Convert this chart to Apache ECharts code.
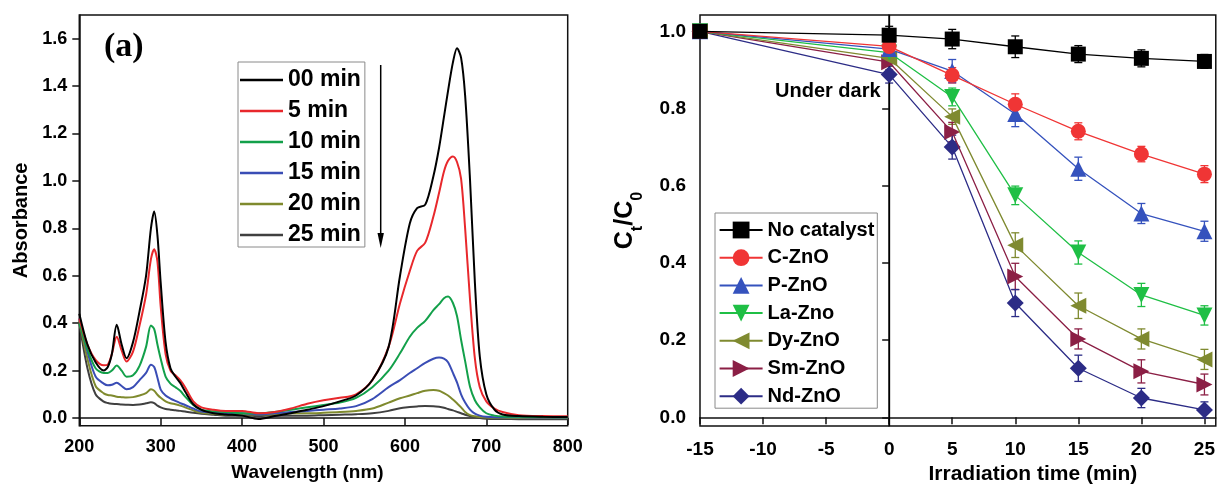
<!DOCTYPE html>
<html>
<head>
<meta charset="utf-8">
<script src="https://cdn.jsdelivr.net/npm/echarts@6/dist/echarts.min.js"></script>
<style>
html,body{margin:0;padding:0;background:#fff;}
#c{width:1218px;height:490px;}
</style>
</head>
<body>
<div id="c"></div>
<script>
// ---------- Panel (a): UV-Vis spectra ----------
const wavelength = [200,210,220,230,235,240,246,252,258,266,274,282,288,292,296,300,306,312,318,324,330,340,350,365,380,400,420,440,460,480,500,520,540,560,580,594,606,615,625,635,642,648,653,659,664,669,674,680,686,692,700,710,720,740,770,800];
const abs00 = [0.44,0.31,0.235,0.20,0.215, 0.27,0.393,0.31,0.252,0.32, 0.45,0.60,0.80,0.871,0.77, 0.57,0.32,0.21,0.175,0.148, 0.112,0.058,0.034,0.02,0.015, 0.01,-0.004,0.008,0.02,0.035, 0.05,0.07,0.095,0.16,0.30, 0.60,0.82,0.885,0.90,1.02, 1.14,1.27,1.38,1.50,1.56, 1.52,1.36,1.005,0.57,0.26, 0.10,0.035,0.015,0.008,0.005, 0.004];
const abs05 = [0.42,0.31,0.245,0.222,0.225, 0.27,0.343,0.285,0.238,0.28, 0.39,0.52,0.67,0.712,0.66, 0.47,0.27,0.20,0.18,0.16, 0.13,0.07,0.045,0.035,0.03, 0.03,0.02,0.025,0.04,0.06, 0.075,0.085,0.10,0.16,0.30, 0.484,0.62,0.705,0.74,0.85, 0.95,1.04,1.085,1.103,1.08, 1.01,0.80,0.50,0.25,0.13, 0.07,0.04,0.025,0.012,0.008, 0.007];
const abs10 = [0.40,0.29,0.21,0.19,0.19, 0.20,0.221,0.20,0.174,0.18, 0.22,0.30,0.39,0.375,0.31, 0.25,0.175,0.145,0.13,0.115, 0.09,0.055,0.035,0.028,0.025, 0.02,0.02,0.025,0.035,0.045, 0.055,0.065,0.085,0.13,0.20, 0.273,0.343,0.38,0.41,0.455, 0.48,0.505,0.512,0.485,0.43, 0.33,0.24,0.132,0.075,0.045, 0.02,0.01,0.006,0.005,0.004, 0.003];
const abs15 = [0.42,0.28,0.175,0.145,0.138, 0.14,0.149,0.135,0.121,0.13, 0.16,0.19,0.225,0.215,0.17, 0.12,0.095,0.082,0.072,0.063, 0.055,0.04,0.027,0.022,0.02, 0.02,0.015,0.02,0.025,0.03, 0.035,0.04,0.05,0.08,0.13, 0.16,0.19,0.21,0.233,0.25, 0.255,0.25,0.235,0.19,0.15, 0.10,0.065,0.035,0.018,0.01, 0.005,0.003,0.003,0.003,0.002, 0.002];
const abs20 = [0.41,0.25,0.135,0.104,0.097, 0.095,0.09,0.088,0.086,0.088, 0.095,0.105,0.121,0.115,0.098, 0.085,0.07,0.062,0.058,0.052, 0.045,0.032,0.022,0.018,0.015, 0.015,0.015,0.015,0.02,0.02, 0.022,0.025,0.03,0.04,0.065, 0.083,0.095,0.105,0.115,0.118, 0.115,0.105,0.095,0.078,0.062, 0.045,0.025,0.012,0.007,0.004, 0.002,0.001,0.001,0.0,0.0, 0.0];
const abs25 = [0.40,0.21,0.10,0.069,0.063, 0.06,0.059,0.057,0.056,0.055, 0.057,0.062,0.066,0.063,0.052, 0.045,0.038,0.035,0.033,0.03, 0.027,0.022,0.018,0.014,0.01, 0.01,0.008,0.01,0.01,0.01, 0.012,0.014,0.016,0.02,0.03, 0.041,0.046,0.049,0.051,0.05, 0.047,0.043,0.038,0.032,0.026, 0.02,0.014,0.008,0.004,0.0, -0.003,-0.004,-0.004,-0.005,-0.005, -0.005];
const specNames = ['00 min','5 min','10 min','15 min','20 min','25 min'];
const specColors = ['#000000','#e8282c','#13a04a','#3a4db5','#7f8a2e','#404040'];
const absTicks = [0,0.2,0.4,0.6,0.8,1.0,1.2,1.4,1.6];

// ---------- Panel (b): degradation kinetics ----------
const timeMin = [-15,0,5,10,15,20,25];
const timeTicks = [-15,-10,-5,0,5,10,15,20,25];
const ratioTicks = [0,0.2,0.4,0.6,0.8,1.0];
const noCat = [1.0,0.99,0.98,0.96,0.941,0.93,0.922];
const cZnO  = [1.0,0.961,0.886,0.811,0.741,0.682,0.63];
const pZnO  = [1.0,0.954,0.897,0.786,0.644,0.528,0.482];
const laZno = [1.0,0.945,0.83,0.575,0.427,0.317,0.264];
const dyZnO = [1.0,0.93,0.779,0.446,0.289,0.203,0.15];
const smZnO = [1.0,0.92,0.739,0.365,0.203,0.119,0.085];
const ndZnO = [1.0,0.888,0.70,0.296,0.127,0.05,0.019];
const noCatErr = [0.01,0.023,0.025,0.028,0.022,0.022,0.018];
const cErr  = [0.01,0.02,0.02,0.027,0.022,0.02,0.022];
const pErr  = [0.01,0.02,0.03,0.033,0.03,0.026,0.026];
const laErr = [0.01,0.02,0.023,0.024,0.03,0.03,0.025];
const dyErr = [0.01,0.02,0.02,0.032,0.033,0.026,0.026];
const smErr = [0.01,0.02,0.025,0.034,0.026,0.03,0.027];
const ndErr = [0.01,0.022,0.031,0.035,0.034,0.025,0.021];
const catNames = ['No catalyst','C-ZnO','P-ZnO','La-Zno','Dy-ZnO','Sm-ZnO','Nd-ZnO'];
const catColors = ['#000000','#f03535','#3552bd','#1fbf45','#7f8a30','#8b1f45','#2c2c86'];
const catSymbols = ['rect','circle','triangle','triangle','triangle','triangle','diamond'];
const catRotate = [0,0,0,180,90,-90,0];
const catSizes = [15,15,16,16,16,16,17];

const FONT = 'Liberation Sans, Arial, sans-serif';
const chart = echarts.init(document.getElementById('c'));
const specData = [abs00,abs05,abs10,abs15,abs20,abs25];
const catData = [noCat,cZnO,pZnO,laZno,dyZnO,smZnO,ndZnO];
const catErr = [noCatErr,cErr,pErr,laErr,dyErr,smErr,ndErr];

const series = [];
specData.forEach((arr,i)=>{
  series.push({
    name: specNames[i], type:'line', xAxisIndex:0, yAxisIndex:0,
    data: wavelength.map((w,k)=>[w,arr[k]]),
    showSymbol:false, symbol:'none', smooth:0.3,
    lineStyle:{color:specColors[i], width:2}, itemStyle:{color:specColors[i]},
    z: 10 - i, silent:true
  });
});
catData.forEach((arr,i)=>{
  const col = catColors[i];
  series.push({
    name: catNames[i]+'_err', type:'custom', xAxisIndex:1, yAxisIndex:1, silent:true, z:2,
    data: timeMin.map((t,k)=>[t, arr[k], catErr[i][k]]),
    renderItem: function(params, api){
      const x = api.value(0), y = api.value(1), e = api.value(2);
      const top = api.coord([x, y+e]); const bot = api.coord([x, y-e]);
      const hw = 4;
      const st = {stroke: col, lineWidth: 1.3};
      return {type:'group', children:[
        {type:'line', shape:{x1:top[0],y1:top[1],x2:bot[0],y2:bot[1]}, style:st},
        {type:'line', shape:{x1:top[0]-hw,y1:top[1],x2:top[0]+hw,y2:top[1]}, style:st},
        {type:'line', shape:{x1:bot[0]-hw,y1:bot[1],x2:bot[0]+hw,y2:bot[1]}, style:st}
      ]};
    }
  });
  const s = {
    name: catNames[i], type:'line', xAxisIndex:1, yAxisIndex:1,
    data: timeMin.map((t,k)=>[t, arr[k]]),
    symbol: catSymbols[i], symbolSize: catSizes[i], symbolRotate: catRotate[i], showSymbol:true,
    lineStyle:{color:col, width:1.3}, itemStyle:{color:col}, z: 5 + (7-i), silent:true
  };
  if (i === 0) {
    s.markLine = {silent:true, symbol:['none','none'], label:{show:false},
      lineStyle:{color:'#000', width:1.3, type:'solid'}, data:[{xAxis:0}]};
  }
  series.push(s);
});

const axisText = {color:'#000', fontFamily:FONT, fontWeight:'bold'};
chart.setOption({
  animation:false,
  backgroundColor:'#fff',
  grid:[
    {left:79.3, top:15, width:488.4, height:410.7, show:true, borderColor:'#111', borderWidth:1.5},
    {left:700, top:15, width:519.1, height:420.7, show:true, borderColor:'#111', borderWidth:1.5}
  ],
  xAxis:[
    {type:'value', gridIndex:0, min:200, max:800, interval:100,
     axisLine:{show:true, lineStyle:{color:'#111', width:1.5}},
     axisTick:{show:true, inside:false, length:7, lineStyle:{color:'#111', width:1.5}},
     axisLabel:Object.assign({fontSize:18, margin:12}, axisText),
     splitLine:{show:false},
     name:'Wavelength (nm)', nameLocation:'middle', nameGap:38,
     nameTextStyle:Object.assign({fontSize:19, padding:[0,32,0,0]}, axisText)},
    {type:'value', gridIndex:1, min:-15, max:25.9,
     axisLine:{show:true, lineStyle:{color:'#111', width:1.5}},
     axisTick:{show:true, length:7, customValues:timeTicks, lineStyle:{color:'#111', width:1.5}},
     axisLabel:Object.assign({fontSize:19, margin:14, customValues:timeTicks}, axisText),
     splitLine:{show:false},
     name:'Irradiation time (min)', nameLocation:'middle', nameGap:33,
     nameTextStyle:Object.assign({fontSize:21, padding:[0,0,0,150]}, axisText)}
  ],
  yAxis:[
    {type:'value', gridIndex:0, min:-0.0325, max:1.70,
     axisLine:{show:true, lineStyle:{color:'#111', width:1.5}},
     axisTick:{show:true, length:7, customValues:absTicks, lineStyle:{color:'#111', width:1.5}},
     axisLabel:Object.assign({fontSize:18, margin:12, customValues:absTicks, formatter:v=>v.toFixed(1)}, axisText),
     splitLine:{show:false},
     name:'Absorbance', nameLocation:'middle', nameGap:48, nameRotate:90,
     nameTextStyle:Object.assign({fontSize:20}, axisText)},
    {type:'value', gridIndex:1, min:-0.0228, max:1.0423,
     axisLine:{show:true, lineStyle:{color:'#111', width:1.5}},
     axisTick:{show:true, length:7, customValues:ratioTicks, lineStyle:{color:'#111', width:1.5}},
     axisLabel:Object.assign({fontSize:19, margin:14, customValues:ratioTicks, formatter:v=>v.toFixed(1)}, axisText),
     splitLine:{show:false},
     name:'{a|C}{s|t}{a|/C}{s|0}', nameLocation:'middle', nameGap:60, nameRotate:90,
     nameTextStyle:{rich:{
       a:{fontSize:25, fontWeight:'bold', fontFamily:FONT, color:'#000', lineHeight:30},
       s:{fontSize:16, fontWeight:'bold', fontFamily:FONT, color:'#000', verticalAlign:'bottom', lineHeight:30, padding:[0,0,-6,0]}
     }}}
  ],
  legend:[
    {data:specNames.map(n=>({name:n, icon:'rect'})), orient:'vertical', left:238, top:62, padding:[6,4,0,2],
     itemWidth:43, itemHeight:2.5, itemGap:7, borderColor:'#8a8a8a', borderWidth:1,
     textStyle:{fontSize:23, fontWeight:'bold', fontFamily:FONT, color:'#000', lineHeight:24},
     selectedMode:false},
    {data:catNames, orient:'vertical', left:715, top:213, padding:[6,3,1,3.6],
     itemWidth:43, itemHeight:21, itemGap:5.7, borderColor:'#8a8a8a', borderWidth:1,
     textStyle:{fontSize:20, fontWeight:'bold', fontFamily:FONT, color:'#000', lineHeight:22},
     selectedMode:false}
  ],
  graphic:[
    {type:'text', left:104, top:30, style:{text:'(a)', font:'bold 34px "Liberation Serif", "Times New Roman", serif', fill:'#000'}},
    {type:'line', shape:{x1:380.7, y1:65, x2:380.7, y2:238}, style:{stroke:'#000', lineWidth:1.5}},
    {type:'polygon', shape:{points:[[377.5,233],[383.9,233],[380.7,248]]}, style:{fill:'#000'}},
    {type:'text', left:775, top:81, style:{text:'Under dark', font:'bold 20px "Liberation Sans", Arial, sans-serif', fill:'#000'}}
  ],
  series: series
});
</script>
</body>
</html>
